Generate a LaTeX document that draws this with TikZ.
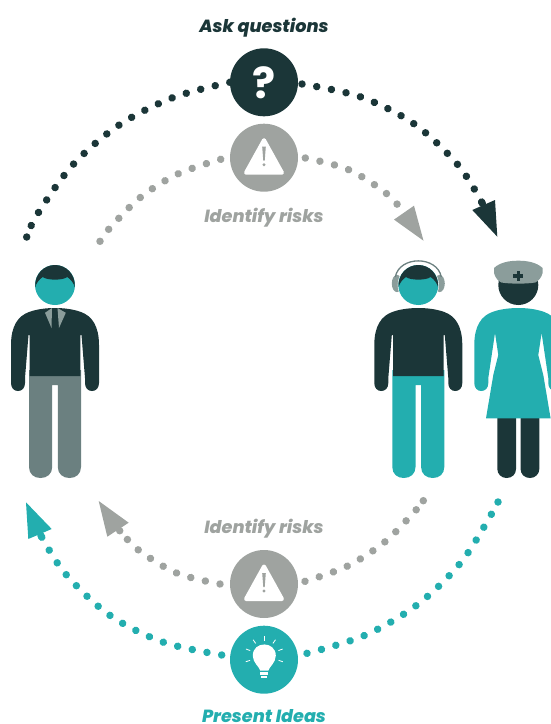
\documentclass[tikz,border=0pt]{standalone}
\usepackage{fontspec}
\setmainfont{Poppins}
\newfontfamily\capfont{Poppins ExtraBold Italic}
\usetikzlibrary{backgrounds}
\definecolor{darkc}{HTML}{1B3638}
\definecolor{tealc}{HTML}{23AEAF}
\definecolor{greyc}{HTML}{9FA3A0}
\definecolor{pantc}{HTML}{6B8080}
\definecolor{hatc}{HTML}{8B9D9B}
\tikzset{
  badge/.style={circle,minimum size=68pt,inner sep=0pt,draw=none},
  dotarc/.style={line width=7.5pt,line cap=round,dash pattern=on 0.01pt off 14.95pt},
  cap label/.style={font=\capfont\fontsize{17.6}{18}\selectfont,inner sep=0pt,anchor=base},
}
\newcommand{\manlegs}[1]{%
  \fill[#1] (-26,370) -- (-26,467) .. controls (-26,474) and (-21,478) .. (-14.5,478)
    .. controls (-8,478) and (-2.8,474) .. (-2.8,467) -- (-2.8,385) -- (2.8,385) -- (2.8,467)
    .. controls (2.8,474) and (8,478) .. (14.5,478) .. controls (21,478) and (26,474) .. (26,467)
    -- (26,370) -- cycle;}
\newcommand{\mantorso}{%
  \fill[darkc] (-44,345) .. controls (-44,326) and (-37,316) .. (-26,312)
    .. controls (-18,309) and (-8,308) .. (0,308) .. controls (8,308) and (18,309) .. (26,312)
    .. controls (37,316) and (44,326) .. (44,345) -- (44,383)
    .. controls (44,388) and (41,391) .. (37,391) .. controls (33,391) and (30,388) .. (30,383)
    -- (30,378) -- (26.5,335) -- (25.3,335) -- (25.3,376) -- (-25.3,376) -- (-25.3,335) -- (-26.5,335)
    -- (-30,378) -- (-30,383) .. controls (-30,388) and (-33,391) .. (-37,391)
    .. controls (-41,391) and (-44,388) .. (-44,383) -- cycle;}
\newcommand{\manhead}{%
  \fill[tealc] (0,285) circle (20pt);
  \fill[darkc] (-19.8,287) .. controls (-20.5,274) and (-11,265) .. (0,265)
    .. controls (11,265) and (20.5,274) .. (19.8,287)
    .. controls (18.5,283) and (16,279.5) .. (12.3,277) .. controls (8,280.5) and (-8,280.5) .. (-12.3,277)
    .. controls (-16,279.5) and (-18.5,283) .. (-19.8,287) -- cycle;}
\newcommand{\warnicon}{%
  \draw[white,fill=white,line width=4pt,line join=round] (0,-17.5) -- (-18,15) -- (18,15) -- cycle;
  \fill[greyc] (-1.8,-11) -- (1.8,-11) -- (0.7,3) -- (-0.7,3) -- cycle;
  \fill[greyc] (0,7) circle (1.6pt);}
\begin{document}
\begin{tikzpicture}[x=1pt,y=-1pt]
\useasboundingbox (0,0) rectangle (551,724);

% badges
\node[badge,fill=darkc] (q) at (264,82.3) {};
\node[badge,fill=greyc] (w1) at (264,157.7) {};
\node[badge,fill=greyc] (w2) at (264,584) {};
\node[badge,fill=tealc] (b) at (264,659.7) {};
\node[font=\bfseries\fontsize{43}{43}\selectfont,text=white,inner sep=0pt] (qm) at (264,83) {?};
\begin{scope}[shift={(264,157.7)}]\warnicon\end{scope}
\begin{scope}[shift={(264,584)}]\warnicon\end{scope}

% bulb
\begin{scope}[shift={(264.3,655.7)}]
  \fill[white] (-4,15) .. controls (-5,11) and (-11.5,7) .. (-11.5,0)
    .. controls (-11.5,-15) and (11.5,-15) .. (11.5,0)
    .. controls (11.5,7) and (5,11) .. (4,15) -- cycle;
  \fill[white] (-4,15.8) rectangle (4,19.2);
  \fill[white] (-3,20) rectangle (3,22);
  \foreach \a in {90,55,125,20,160,-18,198}
    \draw[white,line width=0.8pt] ({15*cos(\a)},{-15*sin(\a)}) -- ({19.5*cos(\a)},{-19.5*sin(\a)});
\end{scope}

% labels
\node[cap label,text=darkc] (t1) at (264,32) {Ask questions};
\node[cap label,text=greyc] (t2) at (264,222.7) {Identify risks};
\node[cap label,text=greyc] (t3) at (264,533.5) {Identify risks};
\node[cap label,text=tealc] (t4) at (264,722.5) {Present Ideas};

% arrow heads
\fill[darkc] (497.3,236.7) -- (495,200) -- (472.3,210) -- cycle;
\fill[greyc] (423.5,240.7) -- (414,205.7) -- (394,219.6) -- cycle;
\fill[tealc] (26,502.3) -- (51.7,529) -- (28.3,539) -- cycle;
\fill[greyc] (98.7,501) -- (128.7,522.7) -- (107.3,536.7) -- cycle;

% connectors
\coordinate (hq) at (482.3,203.3);
\coordinate (hw) at (405,213.5);
\coordinate (sq) at (302,84);
\coordinate (sw) at (305.3,158);
\coordinate (lq) at (26.7,237);
\coordinate (lw) at (100,241.3);
\coordinate (sbl) at (221.7,655);
\coordinate (sbr) at (307,653.3);
\coordinate (swl) at (220,584);
\coordinate (swr) at (305,581.3);
\coordinate (stw) at (220.7,159.3);
\coordinate (rb) at (498,502);
\coordinate (rw) at (423.3,500.7);
\begin{scope}[on background layer]
  \draw[dotarc,darkc] plot[smooth,tension=.55] coordinates {(q.west) (172.7,97.7) (118.7,125.3) (72.7,165) (37.3,214.3) (lq)};
  \fill[darkc] (lq) circle (3.75pt);
  \draw[dotarc,darkc] plot[smooth,tension=.55] coordinates {(sq) (361,97) (414.7,124.3) (458.3,165.3) (hq)};
  \fill[darkc] (hq) circle (3.75pt);
  \draw[dotarc,greyc] plot[smooth,tension=.55] coordinates {(stw) (177.7,174) (140,197.7) (108.3,229.7) (lw)};
  \fill[greyc] (lw) circle (3.75pt);
  \draw[dotarc,greyc] plot[smooth,tension=.55] coordinates {(sw) (347.7,169.3) (385,192.3) (hw)};
  \draw[dotarc,tealc] plot[smooth,tension=.55] coordinates {(sbl) (162.7,642) (109,614.7) (65,573.3) (41,535.7)};
  \fill[tealc] (41,535.7) circle (3.75pt);
  \draw[dotarc,tealc] plot[smooth,tension=.55] coordinates {(sbr) (365,635.3) (417.3,604.7) (461,562.3) (493.3,511) (rb)};
  \fill[tealc] (rb) circle (3.75pt);
  \draw[dotarc,greyc] plot[smooth,tension=.55] coordinates {(swl) (177.3,573.3) (139.7,551) (119.7,530.7)};
  \fill[greyc] (119.7,530.7) circle (3.75pt);
  \draw[dotarc,greyc] plot[smooth,tension=.55] coordinates {(swr) (347,566.3) (384.7,542) (416,510) (rw)};
  \fill[greyc] (rw) circle (3.75pt);
\end{scope}

% left man
\begin{scope}[shift={(55,0)}]
  \manlegs{pantc}
  \mantorso
  \fill[hatc] (-10,312.8) -- (-3,308) -- (-3.5,328) -- cycle;
  \fill[hatc] (2.5,308) -- (10.8,312.8) -- (4,328) -- cycle;
  \manhead
\end{scope}

% headphone man
\begin{scope}[shift={(418.3,0)}]
  \manlegs{tealc}
  \mantorso
  \fill[hatc] (-21.3,283.5) ellipse (5.2pt and 8.6pt);
  \fill[hatc] (21.3,283.5) ellipse (5.2pt and 8.6pt);
  \draw[pantc,line width=1.3pt] (-23,277) .. controls (-19,255.5) and (19,255.5) .. (23,277);
  \fill[white] (0,285) circle (20.6pt);
  \manhead
\end{scope}

% nurse
\begin{scope}[shift={(518.3,0)}]
  \fill[darkc] (-21,410) -- (-21,469) .. controls (-21,474) and (-17,478) .. (-11.7,478)
    .. controls (-6,478) and (-2.3,474) .. (-2.3,469) -- (-2.3,410) -- cycle;
  \fill[darkc] (2.3,410) -- (2.3,469) .. controls (2.3,474) and (6,478) .. (11.7,478)
    .. controls (17,478) and (21,474) .. (21,469) -- (21,410) -- cycle;
  \fill[tealc] (-44,345) .. controls (-44,326) and (-37,316) .. (-26,312)
    .. controls (-18,309) and (-8,308) .. (0,308) .. controls (8,308) and (18,309) .. (26,312)
    .. controls (37,316) and (44,326) .. (44,345) -- (44,383)
    .. controls (44,388) and (41,391) .. (37,391) .. controls (33,391) and (30,388) .. (30,383)
    -- (30,378) -- (23.3,333) -- (20,355) -- (25,375) -- (32.3,418.3) -- (-32.3,418.3)
    -- (-25,375) -- (-20,355) -- (-23.3,333) -- (-30,378) -- (-30,383)
    .. controls (-30,388) and (-33,391) .. (-37,391)
    .. controls (-41,391) and (-44,388) .. (-44,383) -- cycle;
  \fill[darkc] (0,285) circle (20pt);
  \fill[hatc] (-24.3,268) .. controls (-18,262) and (-8,260.7) .. (0,260.7)
    .. controls (8,260.7) and (18,262) .. (24.3,268)
    -- (24.3,273) .. controls (23,278) and (20,281) .. (17,282.5)
    .. controls (8,284) and (-8,284) .. (-17,282.5)
    .. controls (-20,281) and (-23,278) .. (-24.3,273) -- cycle;
  \fill[darkc] (-1.8,271) rectangle (1.8,281);
  \fill[darkc] (-5,274.2) rectangle (5,277.8);
\end{scope}
\end{tikzpicture}
\end{document}
